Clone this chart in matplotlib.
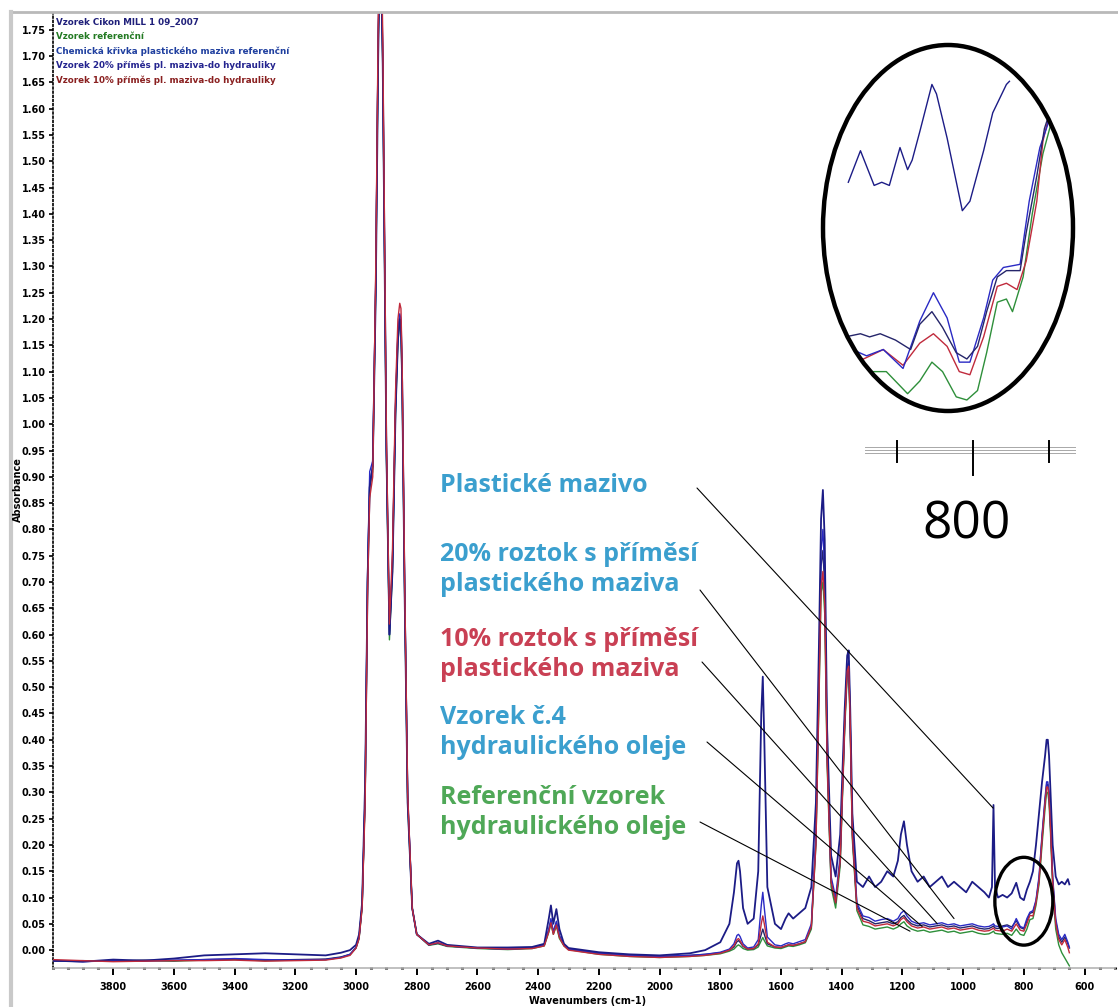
import matplotlib
matplotlib.use("Agg")
import matplotlib.pyplot as plt
from matplotlib.patches import Ellipse
from matplotlib.lines import Line2D
from matplotlib.transforms import blended_transform_factory
from matplotlib.ticker import MultipleLocator, FormatStrFormatter

# ---------------- spectra (wavenumber in cm-1, absorbance) ----------------
wavenumber = [
    4000, 3900, 3800, 3700, 3600, 3500, 3400, 3300, 3200, 3100,
    3050, 3020, 3000, 2990, 2980, 2970, 2962, 2955, 2945, 2935,
    2927, 2922, 2918, 2912, 2900, 2890, 2880, 2870, 2862, 2856,
    2852, 2848, 2840, 2830, 2815, 2800, 2760, 2730, 2700, 2600,
    2500, 2420, 2380, 2365, 2358, 2350, 2340, 2330, 2315, 2300,
    2200, 2100, 2000, 1900, 1850, 1800, 1770, 1755, 1745, 1740,
    1735, 1725, 1710, 1690, 1675, 1665, 1660, 1655, 1645, 1620,
    1600, 1585, 1575, 1560, 1540, 1520, 1500, 1485, 1475, 1468,
    1462, 1456, 1448, 1435, 1420, 1405, 1390, 1382, 1377, 1372,
    1365, 1350, 1330, 1310, 1290, 1270, 1250, 1230, 1215, 1205,
    1195, 1185, 1170, 1150, 1130, 1110, 1090, 1070, 1050, 1030,
    1010, 990, 970, 950, 930, 915, 905, 900, 895, 885,
    870, 855, 840, 825, 812, 800, 790, 780, 770, 760,
    750, 740, 730, 725, 721, 717, 712, 705, 695, 685,
    675, 665, 655, 650,
]

grease = [
    -0.020, -0.022, -0.018, -0.020, -0.016, -0.010, -0.008, -0.006, -0.008, -0.010,
    -0.005, 0.000, 0.010, 0.030, 0.090, 0.320, 0.700, 0.880, 0.920, 1.250,
    1.700, 1.880, 1.900, 1.680, 0.950, 0.600, 0.720, 1.020, 1.160, 1.200,
    1.190, 1.080, 0.680, 0.280, 0.080, 0.030, 0.012, 0.018, 0.010, 0.005,
    0.005, 0.006, 0.012, 0.060, 0.085, 0.050, 0.078, 0.040, 0.012, 0.004,
    -0.004, -0.008, -0.010, -0.006, 0.000, 0.015, 0.050, 0.110, 0.165, 0.170,
    0.150, 0.080, 0.050, 0.060, 0.150, 0.450, 0.520, 0.400, 0.120, 0.050,
    0.040, 0.060, 0.070, 0.060, 0.070, 0.080, 0.120, 0.280, 0.580, 0.820,
    0.875, 0.780, 0.420, 0.180, 0.140, 0.220, 0.460, 0.560, 0.570, 0.460,
    0.260, 0.130, 0.120, 0.140, 0.120, 0.130, 0.150, 0.140, 0.170, 0.220,
    0.245, 0.200, 0.150, 0.130, 0.140, 0.120, 0.130, 0.140, 0.120, 0.130,
    0.120, 0.110, 0.130, 0.120, 0.110, 0.100, 0.120, 0.276, 0.120, 0.100,
    0.105, 0.100, 0.108, 0.128, 0.100, 0.095, 0.115, 0.130, 0.150, 0.200,
    0.260, 0.320, 0.370, 0.400, 0.400, 0.370, 0.300, 0.200, 0.140, 0.125,
    0.130, 0.125, 0.135, 0.125,
]

mix20 = [
    -0.020, -0.022, -0.020, -0.021, -0.019, -0.018, -0.016, -0.018, -0.019, -0.018,
    -0.014, -0.008, 0.005, 0.025, 0.085, 0.300, 0.720, 0.910, 0.930, 1.280,
    1.740, 1.900, 1.920, 1.700, 0.960, 0.600, 0.740, 1.040, 1.180, 1.210,
    1.200, 1.090, 0.700, 0.300, 0.080, 0.030, 0.010, 0.014, 0.008, 0.004,
    0.002, 0.004, 0.010, 0.040, 0.060, 0.035, 0.055, 0.028, 0.010, 0.002,
    -0.006, -0.010, -0.012, -0.010, -0.008, -0.004, 0.002, 0.012, 0.028, 0.030,
    0.026, 0.012, 0.004, 0.006, 0.020, 0.085, 0.110, 0.080, 0.025, 0.010,
    0.008, 0.012, 0.014, 0.012, 0.016, 0.020, 0.050, 0.220, 0.520, 0.760,
    0.800, 0.720, 0.380, 0.140, 0.100, 0.180, 0.440, 0.540, 0.550, 0.440,
    0.230, 0.090, 0.065, 0.062, 0.055, 0.058, 0.060, 0.055, 0.060, 0.070,
    0.075, 0.065, 0.055, 0.050, 0.052, 0.048, 0.050, 0.052, 0.048, 0.050,
    0.046, 0.048, 0.050, 0.046, 0.044, 0.045, 0.048, 0.050, 0.046, 0.045,
    0.044, 0.046, 0.040, 0.060, 0.045, 0.042, 0.060, 0.072, 0.075, 0.095,
    0.140, 0.220, 0.290, 0.320, 0.320, 0.300, 0.240, 0.140, 0.060, 0.030,
    0.020, 0.030, 0.015, 0.005,
]

mix10 = [
    -0.018, -0.020, -0.022, -0.021, -0.020, -0.020, -0.019, -0.021, -0.020, -0.019,
    -0.015, -0.010, 0.004, 0.022, 0.080, 0.280, 0.680, 0.860, 0.900, 1.300,
    1.780, 1.950, 1.960, 1.740, 0.980, 0.620, 0.760, 1.060, 1.200, 1.230,
    1.220, 1.110, 0.710, 0.300, 0.080, 0.030, 0.010, 0.014, 0.008, 0.004,
    0.002, 0.003, 0.008, 0.035, 0.052, 0.030, 0.048, 0.024, 0.008, 0.000,
    -0.008, -0.012, -0.014, -0.012, -0.010, -0.006, 0.000, 0.008, 0.020, 0.022,
    0.018, 0.008, 0.002, 0.003, 0.012, 0.050, 0.065, 0.050, 0.015, 0.006,
    0.005, 0.008, 0.010, 0.009, 0.012, 0.016, 0.045, 0.200, 0.480, 0.690,
    0.720, 0.660, 0.360, 0.130, 0.090, 0.170, 0.430, 0.530, 0.540, 0.430,
    0.220, 0.080, 0.055, 0.052, 0.046, 0.048, 0.050, 0.046, 0.050, 0.058,
    0.062, 0.054, 0.046, 0.042, 0.044, 0.040, 0.042, 0.044, 0.040, 0.042,
    0.038, 0.040, 0.042, 0.038, 0.036, 0.037, 0.040, 0.042, 0.038, 0.037,
    0.036, 0.040, 0.036, 0.050, 0.038, 0.036, 0.050, 0.066, 0.065, 0.090,
    0.130, 0.210, 0.280, 0.310, 0.310, 0.290, 0.230, 0.130, 0.050, 0.020,
    0.010, 0.020, 0.005, -0.005,
]

oil4 = [
    -0.021, -0.020, -0.021, -0.019, -0.020, -0.018, -0.017, -0.019, -0.018, -0.017,
    -0.013, -0.008, 0.005, 0.024, 0.085, 0.300, 0.710, 0.890, 0.920, 1.270,
    1.730, 1.890, 1.910, 1.690, 0.950, 0.600, 0.730, 1.030, 1.170, 1.200,
    1.190, 1.080, 0.690, 0.290, 0.080, 0.030, 0.010, 0.013, 0.008, 0.004,
    0.002, 0.004, 0.010, 0.038, 0.056, 0.033, 0.052, 0.026, 0.009, 0.002,
    -0.006, -0.010, -0.012, -0.010, -0.008, -0.005, 0.000, 0.006, 0.016, 0.018,
    0.015, 0.007, 0.002, 0.003, 0.010, 0.030, 0.040, 0.030, 0.012, 0.006,
    0.005, 0.008, 0.010, 0.009, 0.012, 0.016, 0.045, 0.210, 0.500, 0.730,
    0.760, 0.690, 0.370, 0.130, 0.090, 0.170, 0.430, 0.535, 0.545, 0.430,
    0.220, 0.085, 0.060, 0.056, 0.050, 0.052, 0.054, 0.050, 0.054, 0.062,
    0.066, 0.058, 0.050, 0.046, 0.048, 0.044, 0.046, 0.048, 0.044, 0.046,
    0.042, 0.044, 0.046, 0.042, 0.040, 0.041, 0.044, 0.046, 0.042, 0.041,
    0.046, 0.048, 0.044, 0.056, 0.043, 0.040, 0.055, 0.070, 0.072, 0.092,
    0.135, 0.215, 0.285, 0.315, 0.315, 0.295, 0.235, 0.135, 0.055, 0.025,
    0.015, 0.025, 0.012, 0.004,
]

reference = [
    -0.020, -0.021, -0.020, -0.020, -0.021, -0.019, -0.018, -0.020, -0.019, -0.018,
    -0.014, -0.009, 0.004, 0.022, 0.080, 0.290, 0.700, 0.880, 0.910, 1.260,
    1.720, 1.880, 1.900, 1.680, 0.940, 0.590, 0.720, 1.020, 1.160, 1.190,
    1.180, 1.070, 0.680, 0.280, 0.080, 0.030, 0.009, 0.012, 0.007, 0.003,
    0.001, 0.003, 0.008, 0.034, 0.050, 0.030, 0.046, 0.022, 0.008, 0.001,
    -0.008, -0.012, -0.014, -0.012, -0.010, -0.007, -0.002, 0.002, 0.008, 0.010,
    0.008, 0.003, 0.000, 0.001, 0.006, 0.018, 0.024, 0.018, 0.008, 0.004,
    0.003, 0.006, 0.008, 0.007, 0.010, 0.014, 0.040, 0.200, 0.470, 0.680,
    0.700, 0.640, 0.350, 0.120, 0.080, 0.160, 0.420, 0.520, 0.530, 0.420,
    0.210, 0.075, 0.048, 0.045, 0.040, 0.042, 0.044, 0.040, 0.044, 0.050,
    0.054, 0.046, 0.040, 0.036, 0.038, 0.034, 0.036, 0.038, 0.034, 0.036,
    0.032, 0.034, 0.036, 0.032, 0.030, 0.031, 0.034, 0.036, 0.032, 0.031,
    0.030, 0.032, 0.028, 0.040, 0.030, 0.028, 0.040, 0.058, 0.060, 0.085,
    0.125, 0.200, 0.270, 0.300, 0.300, 0.280, 0.220, 0.120, 0.040, 0.010,
    -0.005, -0.015, -0.025, -0.030,
]

# ---------------- magnified detail around 800 cm-1 ----------------
zoom_grease_w = [882, 874, 865, 860, 855, 848, 843, 840, 835, 827, 824, 817, 807, 802, 793, 787, 778, 776]
zoom_grease_a = [0.099, 0.109, 0.098, 0.099, 0.098, 0.110, 0.103, 0.106, 0.115, 0.130, 0.127, 0.113,
                 0.090, 0.093, 0.109, 0.121, 0.130, 0.131]
zoom_oil4_w = [884, 874, 868, 861, 851, 841, 835, 827, 820, 811, 804, 797, 791, 784, 778, 769, 765, 758, 753, 749]
zoom_oil4_a = [0.050, 0.051, 0.050, 0.051, 0.049, 0.046, 0.054, 0.058, 0.053, 0.045, 0.043, 0.047,
               0.058, 0.069, 0.071, 0.071, 0.083, 0.101, 0.116, 0.122]
zoom_mix20_w = [884, 870, 859, 846, 835, 826, 817, 809, 802, 793, 787, 780, 769, 763, 756, 751, 749]
zoom_mix20_a = [0.047, 0.044, 0.046, 0.040, 0.055, 0.064, 0.056, 0.042, 0.042, 0.056, 0.068, 0.072,
                0.073, 0.093, 0.110, 0.117, 0.122]
zoom_mix10_w = [884, 872, 859, 846, 835, 826, 817, 809, 802, 793, 784, 778, 771, 765, 758, 754, 749]
zoom_mix10_a = [0.044, 0.043, 0.046, 0.041, 0.048, 0.051, 0.047, 0.039, 0.038, 0.050, 0.066, 0.067,
                0.065, 0.074, 0.093, 0.112, 0.122]
zoom_ref_w = [884, 866, 857, 843, 835, 827, 820, 811, 804, 797, 791, 784, 778, 774, 767, 761, 754, 749]
zoom_ref_a = [0.039, 0.039, 0.039, 0.032, 0.036, 0.042, 0.039, 0.031, 0.030, 0.033, 0.045, 0.061,
              0.062, 0.058, 0.069, 0.089, 0.108, 0.117]
zoom_scale_ticks = [850, 800, 750]

# ---------------- texts ----------------
legend_entries = [
    ("Vzorek Cikon MILL 1 09_2007", "#1f1f7a"),
    ("Vzorek referenční", "#237a23"),
    ("Chemická křivka plastického maziva referenční", "#1f3f9f"),
    ("Vzorek 20% příměs pl. maziva-do hydrauliky", "#24248f"),
    ("Vzorek 10% příměs pl. maziva-do hydrauliky", "#8a2020"),
]
callouts = [
    ("Plastické mazivo", "#3b9fce", (901, 0.270)),
    ("20% roztok s příměsí\nplastického maziva", "#3b9fce", (1030, 0.060)),
    ("10% roztok s příměsí\nplastického maziva", "#c94054", (1085, 0.050)),
    ("Vzorek č.4\nhydraulického oleje", "#3b9fce", (1135, 0.045)),
    ("Referenční vzorek\nhydraulického oleje", "#4fa857", (1175, 0.036)),
]
x_ticks = [3800, 3600, 3400, 3200, 3000, 2800, 2600, 2400, 2200, 2000,
           1800, 1600, 1400, 1200, 1000, 800, 600]

C_GREASE = "#1c1c86"
C_MIX20 = "#2a2ac4"
C_MIX10 = "#c02a3c"
C_OIL4 = "#25256a"
C_REF = "#2e8f3a"

W, H = 1118, 1007
fig = plt.figure(figsize=(W / 100, H / 100), dpi=100)
fig.patch.set_facecolor("white")


def fx(px):
    return px / W


def fy(py):
    return 1 - py / H


# main axes: 4000 cm-1 at x=52.5 px, 500 cm-1 at x=1115 px; -0.034 at y=968, 1.782 at y=13
ax = fig.add_axes([fx(52.5), fy(968), fx(1114.9) - fx(52.5), fy(13) - fy(968)])
ax.set_xlim(4000, 500)
ax.set_ylim(-0.034, 1.782)

ax.plot(wavenumber, reference, color=C_REF, lw=1.0, zorder=2)
ax.plot(wavenumber, oil4, color=C_OIL4, lw=1.0, zorder=3)
ax.plot(wavenumber, mix20, color=C_MIX20, lw=1.0, zorder=4)
ax.plot(wavenumber, grease, color=C_GREASE, lw=1.3, zorder=5)
ax.plot(wavenumber, mix10, color=C_MIX10, lw=1.0, zorder=6)

for side in ("top", "right"):
    ax.spines[side].set_visible(False)
ax.spines["left"].set_linestyle((0, (1, 1.5)))
ax.spines["left"].set_linewidth(1.2)
ax.spines["bottom"].set_color("#b5b5b5")
ax.spines["bottom"].set_linewidth(1.2)

ax.set_xticks(x_ticks)
ax.set_xticklabels([str(t) for t in x_ticks])
ax.xaxis.set_minor_locator(MultipleLocator(50))
ax.set_yticks([i * 0.05 for i in range(36)])
ax.yaxis.set_major_formatter(FormatStrFormatter("%.2f"))
ax.tick_params(axis="x", which="major", direction="out", length=5, width=1.4, pad=5,
               labelsize=7)
ax.tick_params(axis="x", which="minor", direction="inout", length=1.6, width=2.2)
ax.tick_params(axis="y", which="major", direction="out", length=3, width=1.2, pad=2,
               labelsize=7)
for lab in ax.get_xticklabels() + ax.get_yticklabels():
    lab.set_fontweight("bold")

fig.text(fx(588), fy(1001), "Wavenumbers (cm-1)", fontsize=7, fontweight="bold",
         ha="center", va="center")
fig.text(fx(18), fy(490), "Absorbance", fontsize=7, fontweight="bold", rotation=90,
         ha="center", va="center")

# window frame
fig.add_artist(Line2D([fx(10), 1], [fy(12), fy(12)], color="#b9b9b9", lw=2.0))
fig.add_artist(Line2D([fx(11), fx(11)], [0, fy(12)], color="#c9c9c9", lw=3.0))

# legend block
for i, (label, color) in enumerate(legend_entries):
    fig.text(fx(56), fy(22 + 14.5 * i), label, fontsize=6.3, fontweight="bold",
             color=color, ha="left", va="center")

# callouts
text_y = [486, 569.5, 654.5, 732.5, 812.5]
for (label, color, target), ty in zip(callouts, text_y):
    fig.text(fx(440), fy(ty), label, ha="left", va="center", fontsize=18,
             fontweight="bold", family="Open Sans", color=color, linespacing=1.22,
             zorder=10)

# leader lines from the callouts down to the curves
line_starts = [(697, 488), (700, 590), (702, 662), (707, 742), (700, 822)]
for (sx, sy), (_, _, target) in zip(line_starts, callouts):
    ax.annotate("", xy=target, xycoords="data",
                xytext=(fx(sx), fy(sy)), textcoords="figure fraction",
                arrowprops=dict(arrowstyle="-", color="black", lw=0.8,
                                shrinkA=0, shrinkB=0),
                annotation_clip=False, zorder=10)

# small ring marking the 800 cm-1 region
ax.add_patch(Ellipse((800, 0.093), 191, 0.167, fill=False, edgecolor="black",
                     lw=2.4, zorder=9))

# magnified view
ax_in = fig.add_axes([fx(822), fy(412), fx(1073) - fx(822), fy(45) - fy(412)])
ax_in.set_xlim(899.3, 734.2)
ax_in.set_ylim(0.0262, 0.1425)
ax_in.axis("off")
ring = Ellipse((fx(948), fy(228)), fx(250), 366 / H, transform=fig.transFigure,
               fill=False, edgecolor="black", lw=3.2, zorder=10)
fig.add_artist(ring)
for xs, ys, c in [(zoom_ref_w, zoom_ref_a, C_REF),
                  (zoom_mix10_w, zoom_mix10_a, C_MIX10),
                  (zoom_mix20_w, zoom_mix20_a, C_MIX20),
                  (zoom_oil4_w, zoom_oil4_a, C_OIL4),
                  (zoom_grease_w, zoom_grease_a, C_GREASE)]:
    ln, = ax_in.plot(xs, ys, color=c, lw=1.0)
    ln.set_clip_path(ring)

# scale strip beneath the magnified view
bt = blended_transform_factory(ax_in.transData, fig.transFigure)
for py in (447, 450, 453):
    fig.add_artist(Line2D([fx(865), fx(1075)], [fy(py), fy(py)], color="#a8a8a8", lw=0.7))
for t in zoom_scale_ticks:
    bottom = 475 if t == 800 else 462
    fig.add_artist(Line2D([t, t], [fy(441), fy(bottom)], transform=bt, color="black", lw=1.4))
fig.text(fx(967), fy(525), "800", fontsize=37, family="Open Sans", ha="center", va="center")

fig.savefig("out.png", dpi=100, facecolor="white")
